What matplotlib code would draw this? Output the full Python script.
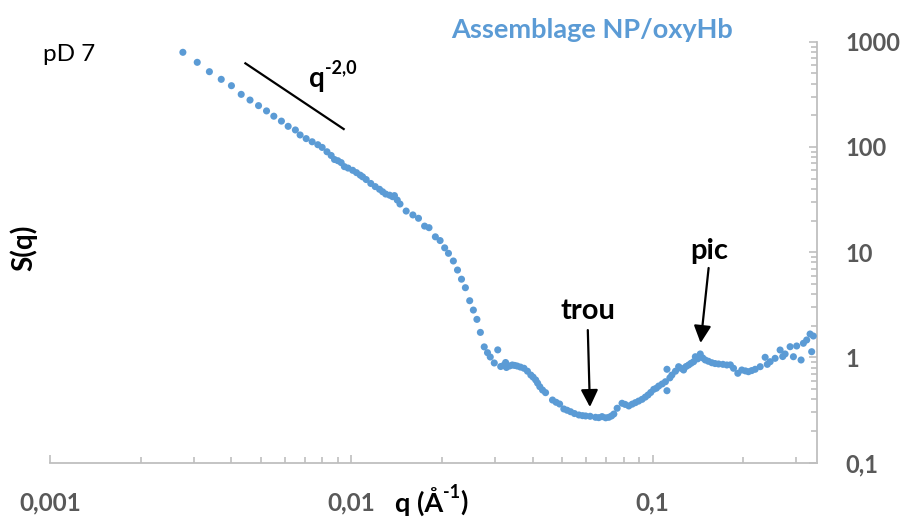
import matplotlib
matplotlib.use('Agg')
import matplotlib.pyplot as plt
from matplotlib.ticker import LogLocator, NullFormatter

# q (1/A) et S(q)
q = [0.00276, 0.00308, 0.00338, 0.00370, 0.00400, 0.00431, 0.00461, 0.00492, 0.00523, 0.00553,
     0.00586, 0.00617, 0.00652, 0.00676, 0.00708, 0.00741, 0.00774, 0.00800, 0.00830, 0.00857,
     0.00879, 0.00902, 0.00925, 0.00948, 0.00975, 0.0101, 0.0104, 0.0107, 0.0109, 0.0112,
     0.0116, 0.0120, 0.0124, 0.0127, 0.0130, 0.0134, 0.0137, 0.0139, 0.0142, 0.0145,
     0.0152, 0.0160, 0.0167, 0.0175, 0.0181, 0.0190, 0.0197, 0.0204, 0.0210, 0.0218,
     0.0225, 0.0232, 0.0239, 0.0247, 0.0254, 0.0261, 0.0268, 0.0276, 0.0283, 0.0289,
     0.0298, 0.0306, 0.0313, 0.0320, 0.0325, 0.0327, 0.0335, 0.0342, 0.0348, 0.0355,
     0.0364, 0.0374, 0.0384, 0.0394, 0.0401, 0.0409, 0.0415, 0.0422, 0.0431, 0.0441,
     0.0465, 0.0478, 0.0491, 0.0507, 0.0520, 0.0534, 0.0550, 0.0569, 0.0585, 0.0599,
     0.0620, 0.0646, 0.0662, 0.0679, 0.0698, 0.0715, 0.0730, 0.0743, 0.0762, 0.0791,
     0.0810, 0.0833, 0.0855, 0.0876, 0.0898, 0.0922, 0.0945, 0.0965, 0.0985, 0.1008,
     0.1028, 0.1047, 0.1075, 0.1102, 0.1115, 0.1115, 0.1140, 0.1158, 0.1190, 0.1219,
     0.1240, 0.1266, 0.1290, 0.1316, 0.1340, 0.1367, 0.1385, 0.1410, 0.1438, 0.1465,
     0.1494, 0.1530, 0.1571, 0.1610, 0.1654, 0.1710, 0.1762, 0.1810, 0.1854, 0.1916,
     0.1975, 0.2030, 0.2078, 0.2130, 0.2188, 0.2273, 0.2361, 0.2400, 0.2453, 0.2548,
     0.2647, 0.2700, 0.2750, 0.2857, 0.2930, 0.3004, 0.3107, 0.3162, 0.3243, 0.3328,
     0.3369, 0.3412]
S = [793, 637, 519, 439, 382, 316, 279, 247, 220, 196,
     176, 157, 145, 130, 120, 112, 105, 99, 90, 83,
     76, 74, 71, 65, 63, 60, 57, 54, 52, 49,
     45, 42, 39.6, 37.5, 35.7, 34.8, 33.7, 34.5, 31.3, 28.7,
     24.6, 22.6, 21.0, 17.7, 17.1, 14.0, 12.9, 11.0, 9.76, 8.25,
     6.77, 5.54, 4.60, 3.46, 2.82, 2.30, 1.73, 1.26, 1.11, 1.01,
     0.886, 1.18, 0.820, 0.84, 0.895, 0.803, 0.83, 0.848, 0.84, 0.829,
     0.81, 0.789, 0.74, 0.681, 0.65, 0.611, 0.57, 0.527, 0.49, 0.463,
     0.394, 0.375, 0.361, 0.324, 0.315, 0.305, 0.293, 0.284, 0.280, 0.278,
     0.276, 0.270, 0.268, 0.274, 0.267, 0.270, 0.278, 0.290, 0.329, 0.367,
     0.358, 0.346, 0.360, 0.372, 0.385, 0.400, 0.420, 0.440, 0.465, 0.498,
     0.51, 0.535, 0.56, 0.588, 0.483, 0.772, 0.64, 0.681, 0.74, 0.817,
     0.79, 0.760, 0.82, 0.848, 0.88, 0.911, 1.016, 0.97, 1.079, 0.99,
     0.946, 0.92, 0.891, 0.875, 0.867, 0.86, 0.848, 0.85, 0.789, 0.707,
     0.760, 0.745, 0.732, 0.75, 0.772, 0.817, 1.003, 0.86, 0.911, 0.981,
     1.177, 1.02, 1.079, 1.265, 1.016, 1.285, 0.946, 1.363, 1.465, 1.670,
     1.134, 1.598]

xticks = [0.001, 0.01, 0.1]
xlabels = ['0,001', '0,01', '0,1']
yticks = [0.1, 1, 10, 100, 1000]
ylabels = ['0,1', '1', '10', '100', '1000']

# droite de pente -2
pente_q = [0.00445, 0.00943]
pente_S = [623, 148]

bleu = '#5B9BD5'
gris = '#BFBFBF'

plt.rcParams['font.family'] = ['Lato', 'DejaVu Sans']

fig = plt.figure(figsize=(9.06, 5.2), dpi=100)
ax = fig.add_axes([0.0552, 0.1102, 0.8462, 0.8096])

ax.scatter(q, S, s=26, color=bleu, edgecolors='none', zorder=3)
ax.plot(pente_q, pente_S, color='black', lw=1.6)

ax.set_xscale('log')
ax.set_yscale('log')
ax.set_xlim(0.001, 0.35)
ax.set_ylim(0.1, 1000)

for s in ['top', 'left']:
    ax.spines[s].set_visible(False)
for s in ['bottom', 'right']:
    ax.spines[s].set_color(gris)
    ax.spines[s].set_linewidth(1.3)

ax.yaxis.tick_right()
ax.set_xticks(xticks)
ax.set_xticklabels(xlabels, fontsize=17.5, fontweight='bold', color='#595959')
ax.set_yticks(yticks)
ax.set_yticklabels(ylabels, fontsize=17, fontweight='bold', color='#595959')
ax.xaxis.set_minor_locator(LogLocator(base=10, subs=range(2, 10)))
ax.yaxis.set_minor_locator(LogLocator(base=10, subs=range(2, 10)))
ax.xaxis.set_minor_formatter(NullFormatter())
ax.yaxis.set_minor_formatter(NullFormatter())
ax.tick_params(axis='x', which='both', direction='in', color=gris, width=1.2, pad=21)
ax.tick_params(axis='y', which='both', direction='in', color=gris, width=1.2, pad=21)
ax.tick_params(which='major', length=6)
ax.tick_params(which='minor', length=4.5)

# fleches
fl = dict(arrowstyle='-|>,head_length=0.4,head_width=0.2', color='black', lw=1.6,
          mutation_scale=26, shrinkA=0, shrinkB=0)
ax.annotate('', xy=(0.0619, 0.338), xytext=(0.0609, 1.82), arrowprops=fl)
ax.annotate('', xy=(0.1442, 1.372), xytext=(0.1533, 7.08), arrowprops=fl)
ax.text(0.0609, 2.76, 'trou', fontsize=21, fontweight='bold', ha='center', va='center')
ax.text(0.1545, 10.3, 'pic', fontsize=21, fontweight='bold', ha='center', va='center')

# q^-2,0
tq = ax.text(0.00726, 440, 'q', fontsize=20, fontweight='bold', ha='left', va='center')
ax.annotate('-2,0', xy=(1, 0.62), xycoords=tq, fontsize=13, fontweight='bold',
            ha='left', va='bottom')

fig.text(0.0762, 0.896, 'pD 7', fontsize=17.5, ha='center', va='center')
fig.text(0.6534, 0.942, 'Assemblage NP/oxyHb', fontsize=19.5, fontweight='bold',
         color=bleu, ha='center', va='center')
fig.text(0.026, 0.523, 'S(q)', fontsize=20, fontweight='bold', rotation=90,
         ha='center', va='center')

# titre axe x : q (Å-1)
t1 = fig.text(0.436, 0.034, 'q (Å', fontsize=19.5, fontweight='bold', ha='left', va='center')
t2 = ax.annotate('-1', xy=(1, 0.55), xycoords=t1, fontsize=13, fontweight='bold',
                 ha='left', va='bottom', annotation_clip=False)
ax.annotate(')', xy=(1, 0.5), xycoords=(t2, t1), fontsize=19.5, fontweight='bold',
            ha='left', va='center', annotation_clip=False)

fig.savefig('out.png', dpi=100)
